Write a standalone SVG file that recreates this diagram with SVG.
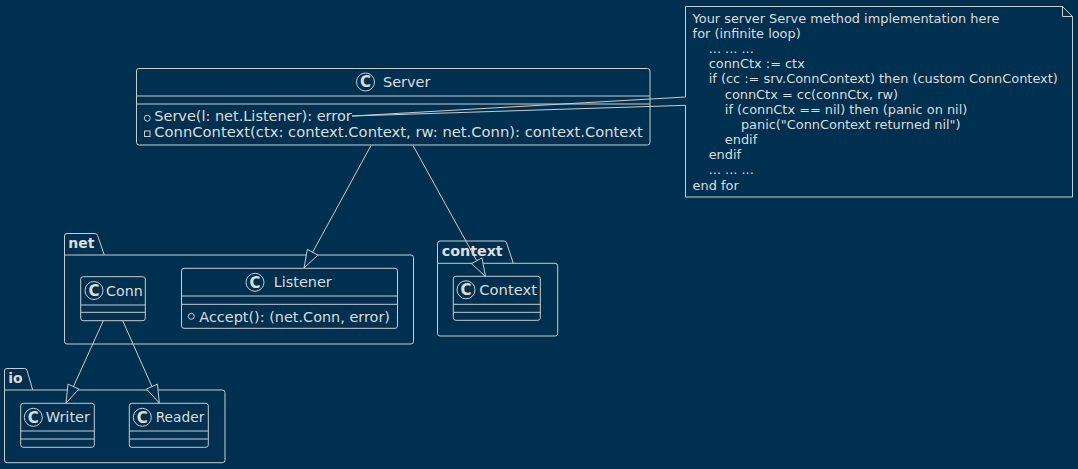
<svg xmlns="http://www.w3.org/2000/svg" width="1078" height="469" viewBox="0 0 1078 469">
<style>
  .bg{fill:#00304f}
  .box{fill:none;stroke:#cccccc;stroke-width:1}
  .ln{stroke:#cccccc;stroke-width:1;fill:none}
  .t{font-family:"DejaVu Sans","Liberation Sans",sans-serif;font-size:14px;fill:#dddddd}
  .n{font-family:"DejaVu Sans","Liberation Sans",sans-serif;font-size:12.9px;fill:#dddddd}
  .pk{font-family:"DejaVu Sans","Liberation Sans",sans-serif;font-size:14px;font-weight:bold;fill:#dddddd}
  .spot{font-family:"DejaVu Sans","Liberation Sans",sans-serif;font-size:15px;font-weight:bold;fill:#dddddd;text-anchor:middle}
  .arr{fill:#00304f;stroke:#cccccc;stroke-width:1}
</style>
<rect class="bg" x="0" y="0" width="1078" height="469"/>

<g id="pkg-net">
  <path class="box" d="M64.5 255 V236 Q64.5 233.5 67 233.5 H95 Q97 233.5 97.6 235.5 L104.3 255 H411 Q413.5 255 413.5 257.5 V341.5 Q413.5 344 411 344 H67 Q64.5 344 64.5 341.5 Z M64.5 255 H104.3"/>
  <text class="pk" x="68.3" y="248">net</text>
</g>
<g id="pkg-context">
  <path class="box" d="M437.5 263.3 V243.5 Q437.5 241 440 241 H504 Q506 241 506.6 243 L513.3 263.3 H555.2 Q557.7 263.3 557.7 265.8 V333.5 Q557.7 336 555.2 336 H440 Q437.5 336 437.5 333.5 Z M437.5 263.3 H513.3"/>
  <text class="pk" x="441.7" y="255.5" textLength="61" lengthAdjust="spacingAndGlyphs">context</text>
</g>
<g id="pkg-io">
  <path class="box" d="M4.5 390 V371 Q4.5 368.5 7 368.5 H24.5 Q26.5 368.5 27.1 370.5 L32.7 390 H222.5 Q225 390 225 392.5 V460.2 Q225 462.7 222.5 462.7 H7 Q4.5 462.7 4.5 460.2 Z M4.5 390 H32.7"/>
  <text class="pk" x="8.3" y="383">io</text>
</g>

<g id="Server">
  <rect class="box" x="136.5" y="68.5" width="513.5" height="76.5" rx="2.5"/>
  <line class="ln" x1="136.5" y1="96" x2="650" y2="96"/>
  <line class="ln" x1="136.5" y1="104" x2="650" y2="104"/>
  <circle class="box" cx="365.5" cy="82" r="9"/>
  <text class="spot" x="365.5" y="87.4">C</text>
  <text class="t" x="383" y="87" textLength="47.5" lengthAdjust="spacingAndGlyphs">Server</text>
  <circle class="box" cx="147.3" cy="118.2" r="3"/>
  <text class="t" x="154.3" y="121" textLength="197.4" lengthAdjust="spacingAndGlyphs">Serve(l: net.Listener): error</text>
  <rect class="box" x="144.5" y="131" width="5.5" height="5.5"/>
  <text class="t" x="154.3" y="137.3" textLength="488.4" lengthAdjust="spacingAndGlyphs">ConnContext(ctx: context.Context, rw: net.Conn): context.Context</text>
</g>

<g id="Listener">
  <rect class="box" x="181.5" y="268.3" width="216" height="60" rx="2.5"/>
  <line class="ln" x1="181.5" y1="296" x2="397.5" y2="296"/>
  <line class="ln" x1="181.5" y1="304.3" x2="397.5" y2="304.3"/>
  <circle class="box" cx="255" cy="282.3" r="9"/>
  <text class="spot" x="255" y="287.7">C</text>
  <text class="t" x="273.7" y="287" textLength="58" lengthAdjust="spacingAndGlyphs">Listener</text>
  <circle class="box" cx="191.3" cy="316.3" r="3"/>
  <text class="t" x="199.3" y="321.5" textLength="190.7" lengthAdjust="spacingAndGlyphs">Accept(): (net.Conn, error)</text>
</g>

<g id="Conn">
  <rect class="box" x="80.7" y="276.7" width="64.6" height="44" rx="2.5"/>
  <line class="ln" x1="80.7" y1="305" x2="145.3" y2="305"/>
  <line class="ln" x1="80.7" y1="312.3" x2="145.3" y2="312.3"/>
  <circle class="box" cx="94" cy="290.5" r="9"/>
  <text class="spot" x="94" y="295.9">C</text>
  <text class="t" x="106" y="295.5" textLength="36.7" lengthAdjust="spacingAndGlyphs">Conn</text>
</g>

<g id="Context">
  <rect class="box" x="453.3" y="276.3" width="87" height="44" rx="2.5"/>
  <line class="ln" x1="453.3" y1="304.3" x2="540.3" y2="304.3"/>
  <line class="ln" x1="453.3" y1="312.3" x2="540.3" y2="312.3"/>
  <circle class="box" cx="466" cy="289.8" r="9"/>
  <text class="spot" x="466" y="295.2">C</text>
  <text class="t" x="479.3" y="295" textLength="57.7" lengthAdjust="spacingAndGlyphs">Context</text>
</g>

<g id="Writer">
  <rect class="box" x="20.7" y="403.3" width="73.6" height="44" rx="2.5"/>
  <line class="ln" x1="20.7" y1="431" x2="94.3" y2="431"/>
  <line class="ln" x1="20.7" y1="439" x2="94.3" y2="439"/>
  <circle class="box" cx="33.3" cy="417.3" r="9"/>
  <text class="spot" x="33.3" y="422.7">C</text>
  <text class="t" x="45.7" y="422" textLength="44.3" lengthAdjust="spacingAndGlyphs">Writer</text>
</g>

<g id="Reader">
  <rect class="box" x="129.3" y="403.3" width="79" height="44" rx="2.5"/>
  <line class="ln" x1="129.3" y1="431" x2="208.3" y2="431"/>
  <line class="ln" x1="129.3" y1="439" x2="208.3" y2="439"/>
  <circle class="box" cx="142.3" cy="417.3" r="9"/>
  <text class="spot" x="142.3" y="422.7">C</text>
  <text class="t" x="155.7" y="422" textLength="48.6" lengthAdjust="spacingAndGlyphs">Reader</text>
</g>

<g id="note">
  <path class="box" d="M685.5 6.5 H1062.5 L1072.5 16.5 V197 H685.5 V105.3 L352 116 L685.5 97 Z"/>
  <path class="ln" d="M1062.5 6.5 V16.5 H1072.5"/>
  <text class="n" x="692.6" y="22.8">Your server Serve method implementation here</text>
  <text class="n" x="692.6" y="38">for (infinite loop)</text>
  <text class="n" x="708.7" y="53.1">... ... ...</text>
  <text class="n" x="708.7" y="68.3">connCtx := ctx</text>
  <text class="n" x="708.7" y="83.4">if (cc := srv.ConnContext) then (custom ConnContext)</text>
  <text class="n" x="724.8" y="98.6">connCtx = cc(connCtx, rw)</text>
  <text class="n" x="724.8" y="113.7">if (connCtx == nil) then (panic on nil)</text>
  <text class="n" x="740.9" y="128.9">panic("ConnContext returned nil")</text>
  <text class="n" x="724.8" y="144">endif</text>
  <text class="n" x="708.7" y="159.2">endif</text>
  <text class="n" x="708.7" y="174.3">... ... ...</text>
  <text class="n" x="692.6" y="189.5">end for</text>
</g>

<g id="connectors">
  <line class="ln" x1="371" y1="145.5" x2="312.66" y2="252.22"/>
  <polygon class="arr" points="304,268 317.92,255.11 307.40,249.33"/>
  <line class="ln" x1="413" y1="145.5" x2="476.78" y2="260.75"/>
  <polygon class="arr" points="485.5,276.5 471.53,263.66 482.03,257.84"/>
  <line class="ln" x1="103.3" y1="320.7" x2="73.45" y2="386.61"/>
  <polygon class="arr" points="66,403 78.91,389.09 67.99,384.13"/>
  <line class="ln" x1="122.7" y1="320.7" x2="151.96" y2="386.56"/>
  <polygon class="arr" points="159.3,403 146.48,389.01 157.44,384.11"/>
</g>
</svg>
